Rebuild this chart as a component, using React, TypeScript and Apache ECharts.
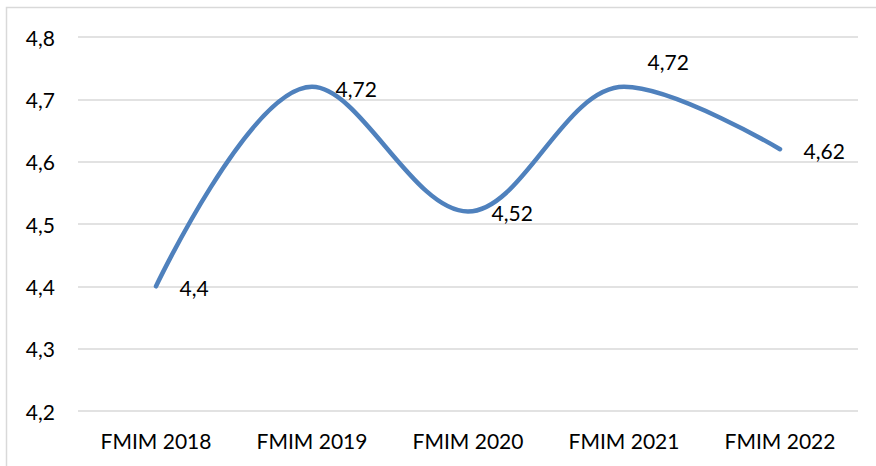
import React, { useEffect, useRef } from "react";
import * as echarts from "echarts";

const categories = ["FMIM 2018", "FMIM 2019", "FMIM 2020", "FMIM 2021", "FMIM 2022"];
const values = [4.4, 4.72, 4.52, 4.72, 4.62];
const labelOffsets: [number, number][] = [[0, 1], [0, 2], [0, 1], [0, -25], [0, 1]];
const yMin = 4.2;
const yMax = 4.8;
const yStep = 0.1;

export default function App() {
  const ref = useRef<HTMLDivElement>(null);
  useEffect(() => {
    if (!ref.current) return;
    const chart = echarts.init(ref.current, null, { renderer: "svg" });
    const font = "Lato, 'Noto Sans', sans-serif";
    chart.setOption({
      animation: false,
      backgroundColor: "#ffffff",
      grid: { left: 78, right: 18, top: 37, bottom: 55, containLabel: false },
      graphic: [
        {
          type: "rect",
          shape: { x: 6.5, y: 7.5, width: 900, height: 500 },
          style: { fill: "none", stroke: "#d9d9d9", lineWidth: 1.5 },
          silent: true,
        },
      ],
      xAxis: {
        type: "category",
        data: categories,
        boundaryGap: true,
        axisLine: { show: false },
        axisTick: { show: false },
        axisLabel: { color: "#000", fontSize: 21, fontFamily: font, margin: 19 },
      },
      yAxis: {
        type: "value",
        min: yMin,
        max: yMax,
        interval: yStep,
        axisLine: { show: false },
        axisTick: { show: false },
        splitLine: { lineStyle: { color: "#d9d9d9", width: 1.5 } },
        axisLabel: {
          color: "#000",
          fontSize: 21,
          fontFamily: font,
          margin: 23,
          formatter: (v: number) => v.toFixed(1).replace(".", ","),
        },
      },
      series: [
        {
          type: "line",
          data: values.map((v, i) => ({
            value: v,
            label: { offset: labelOffsets[i] },
          })),
          smooth: 0.35,
          symbol: "circle",
          symbolSize: 1,
          showSymbol: true,
          itemStyle: { color: "rgba(79,129,189,0)" },
          lineStyle: { color: "#4f81bd", width: 4.5, cap: "round", join: "round" },
          label: {
            show: true,
            position: "right",
            distance: 23,
            color: "#000",
            fontSize: 21,
            fontFamily: font,
            formatter: (p: any) => String(p.value).replace(".", ","),
          },
        },
      ],
    });
    return () => chart.dispose();
  }, []);
  return (
    <div
      ref={ref}
      style={{ position: "absolute", left: 0, top: 0, width: 876, height: 466 }}
    />
  );
}
